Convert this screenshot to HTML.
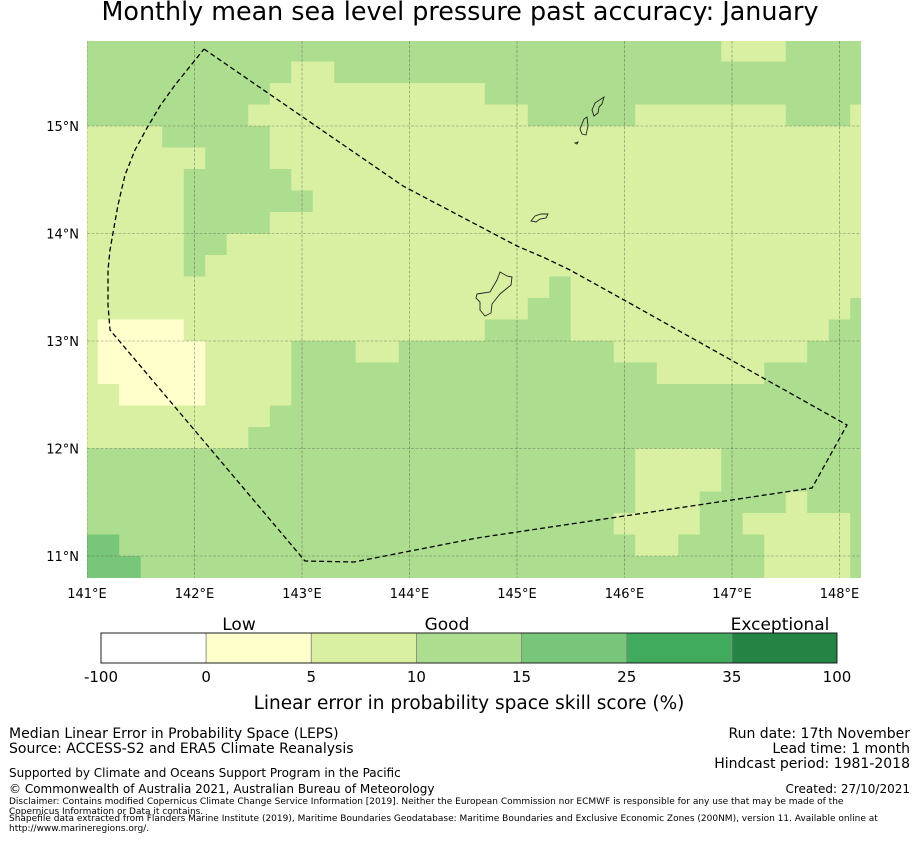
<!DOCTYPE html>
<html><head><meta charset="utf-8">
<style>
html,body{margin:0;padding:0;background:#fff;}
body{width:919px;height:839px;overflow:hidden;font-family:"Liberation Sans","DejaVu Sans",sans-serif;}
svg text{font-family:"DejaVu Sans","Liberation Sans",sans-serif;}
</style></head>
<body>
<svg id="chart" width="919" height="839" viewBox="0 0 919 839" xmlns="http://www.w3.org/2000/svg">
<text x="460" y="20" font-size="25.4" text-anchor="middle" fill="#000">Monthly mean sea level pressure past accuracy: January</text>
<defs><clipPath id="mapclip"><rect x="87" y="41" width="774" height="537"/></clipPath></defs>
<g id="cells" clip-path="url(#mapclip)"></g>
<g id="grid" clip-path="url(#mapclip)"></g>
<g id="islands" fill="none" stroke="#222" stroke-width="0.9">
<path d="M477,294 L490,292 L497,280 L500,272 L507,276 L512,277 L511,285 L500,294 L492,304 L491,313 L485,316 L480,310 L480,302 L476,298 Z"/>
<path d="M531,221 L535,216 L541,214 L548,214 L546,218 L540,219 L536,222 Z"/>
<path d="M580,129 L584,119 L587,117 L588,126 L586,135 L582,134 Z"/>
<path d="M592,110 L595,103 L604,97 L602,104 L599,107 L598,113 L594,116 Z"/>
<path d="M575,143 L578,142 L577,144 Z"/>
</g>
<polyline fill="none" stroke="#000" stroke-width="1.3" stroke-dasharray="5,3"
points="204,49 403,186 517,246 545,258 570,270 633,305 847,425 812,488 477,538 354,562 305,561 110,330 108,305 108,270 110,250 113,233 118,205 125,175 135,150 147,128 160,106 175,85 204,49"/>
<g id="xticks"></g>
<g id="yticks"></g>
<g id="cbar"></g>
<text x="239" y="630" font-size="17" text-anchor="middle">Low</text>
<text x="447" y="630" font-size="17" text-anchor="middle">Good</text>
<text x="780" y="630" font-size="17" text-anchor="middle">Exceptional</text>
<text x="469" y="709" font-size="18.5" text-anchor="middle">Linear error in probability space skill score (%)</text>
<g font-size="14">
<text x="9" y="738">Median Linear Error in Probability Space (LEPS)</text>
<text x="9" y="753">Source: ACCESS-S2 and ERA5 Climate Reanalysis</text>
<text x="9" y="777" font-size="12">Supported by Climate and Oceans Support Program in the Pacific</text>
<text x="9" y="793" font-size="12">© Commonwealth of Australia 2021, Australian Bureau of Meteorology</text>
<text x="9" y="804" font-size="9">Disclaimer: Contains modified Copernicus Climate Change Service Information [2019]. Neither the European Commission nor ECMWF is responsible for any use that may be made of the</text>
<text x="9" y="814" font-size="9">Copernicus Information or Data it contains.</text>
<text x="9" y="821" font-size="9">Shapefile data extracted from Flanders Marine Institute (2019), Maritime Boundaries Geodatabase: Maritime Boundaries and Exclusive Economic Zones (200NM), version 11. Available online at</text>
<text x="9" y="831" font-size="9">http://www.marineregions.org/.</text>
</g>
<g font-size="14" text-anchor="end">
<text x="910" y="738">Run date: 17th November</text>
<text x="910" y="753">Lead time: 1 month</text>
<text x="910" y="768">Hindcast period: 1981-2018</text>
<text x="910" y="793" font-size="12">Created: 27/10/2021</text>
</g>
</svg>
<script>
// ---- data ----
const gridRows = [
"G30P3G4","G10P2G25","G9P10G18","G8P13G5P7G3P1",
"P4G5P28","P6G3P28","P5G5P27","P5G6P26","P5G4P28","P5G2P30","P5G1P31",
"P22G1P14","P21G2P13G1","P1C4P14G4P12G2","P1C5P4G3P2G10P9G3",
"P1C5P4G17P5G5","P2C4P4G27","P9G28","P8G29",
"G26P4G7","G26P4G7","G26P3G4P1G3","G25P4G2P5G1",
"M2G24P2G4P4G1","M3G29P4G1"
];
const lonTicks = [141,142,143,144,145,146,147,148];
const latTicks = [15,14,13,12,11];
const cbarBounds = ["-100","0","5","10","15","25","35","100"];
const cbarColors = ["#ffffff","#ffffcc","#d9f0a3","#addd8e","#78c679","#41ab5d","#238443"];
const codeColor = {C:"#ffffcc",P:"#d9f0a3",G:"#addd8e",M:"#78c679"};
// ---- axes ----
const PX = 107.5;
const xOf = lon => 87 + (lon-141)*PX;
const yOf = lat => 126 + (15-lat)*PX;
const NS = "http://www.w3.org/2000/svg";
function mk(tag, attrs, parent){const e=document.createElementNS(NS,tag);for(const k in attrs)e.setAttribute(k,attrs[k]);parent.appendChild(e);return e;}
const cells = document.getElementById('cells');
gridRows.forEach((row, r) => {
  let i = 0;
  const re = /([A-Z])(\d+)/g; let m;
  while ((m = re.exec(row))) {
    const n = +m[2];
    const lon0 = 141 + 0.2*i - 0.1, lat0 = 15.8 - 0.2*r;
    const el = mk('rect',{x:xOf(lon0),y:yOf(lat0),width:n*0.2*PX+0.5,height:0.2*PX+0.5,fill:codeColor[m[1]]},cells);
    
    
    i += n;
  }
});
const grid = document.getElementById('grid');
const xt = document.getElementById('xticks');
lonTicks.forEach(l => {
  const ln = mk('line',{x1:xOf(l),x2:xOf(l),y1:41,y2:578,stroke:"#444","stroke-width":0.6,"stroke-dasharray":"3,1.5","stroke-opacity":0.6},grid);
  
  
  const t = mk('text',{x:xOf(l),y:598,"font-size":13,"text-anchor":"middle"},xt);
  t.textContent = l + "°E";
  
  
});
const yt = document.getElementById('yticks');
latTicks.forEach(l => {
  const ln = mk('line',{x1:87,x2:861,y1:yOf(l),y2:yOf(l),stroke:"#444","stroke-width":0.6,"stroke-dasharray":"3,1.5","stroke-opacity":0.6},grid);
  
  
  const t = mk('text',{x:79,y:yOf(l)+5,"font-size":13,"text-anchor":"end"},yt);
  t.textContent = l + "°N";
  
  
});
const cb = document.getElementById('cbar');
const cbX0 = 101, cbW = (837-101)/cbarColors.length;
cbarColors.forEach((c,k) => {
  const r = mk('rect',{x:cbX0+k*cbW,y:633,width:cbW,height:30,fill:c,stroke:"#888","stroke-width":0.8},cb);
  
  
});
mk('rect',{x:101,y:633,width:736,height:30,fill:"none",stroke:"#000","stroke-width":0.8},cb);
cbarBounds.forEach((b,k) => {
  const t = mk('text',{x:cbX0+k*cbW,y:682,"font-size":15,"text-anchor":"middle"},cb);
  t.textContent = b;
  
  
});
</script>
</body></html>
